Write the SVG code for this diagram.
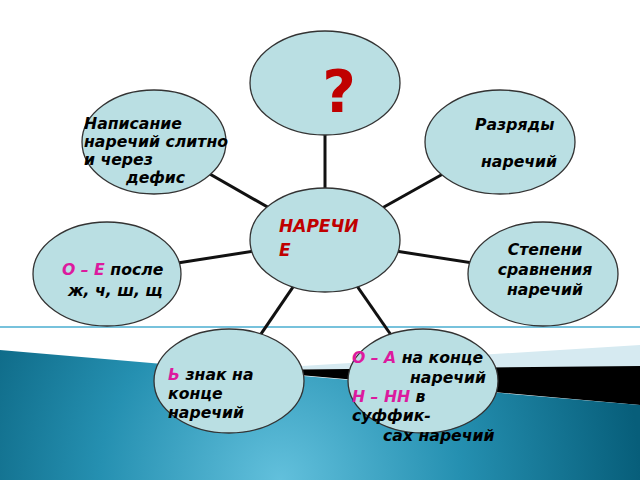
<svg xmlns="http://www.w3.org/2000/svg" width="640" height="480" viewBox="0 0 640 480">
<defs>
<radialGradient id="sea" cx="280" cy="480" r="360" gradientUnits="userSpaceOnUse">
<stop offset="0" stop-color="#62c0dc"/>
<stop offset="0.5" stop-color="#2590b1"/>
<stop offset="1" stop-color="#075e7a"/>
</radialGradient>
<style>
.n{fill:#badfe3;stroke:#333;stroke-width:1.3}
.c line{stroke:#111;stroke-width:3}
text{font-family:"DejaVu Sans","Noto Sans",sans-serif;font-weight:bold;font-style:italic;font-size:15.7px;fill:#000}
.r{fill:#c00000}
.m{fill:#dc1a9e}
</style>
</defs>
<rect width="640" height="480" fill="#fff"/>
<g id="background">
<line x1="0" y1="327" x2="640" y2="327" stroke="#4aaed0" stroke-width="1.5"/>
<polygon points="238,370 640,345 640,368" fill="#d6eaf1"/>
<polygon points="244,370 640,366 640,405" fill="#000"/>
<polygon points="0,350 640,405 640,480 0,480" fill="url(#sea)"/>
</g>
<g class="c" id="connectors">
<line x1="325" y1="83" x2="325" y2="240"/>
<line x1="325" y1="240" x2="154" y2="142"/>
<line x1="325" y1="240" x2="500" y2="142"/>
<line x1="325" y1="240" x2="107" y2="274"/>
<line x1="325" y1="240" x2="543" y2="274"/>
<line x1="325" y1="240" x2="229" y2="381"/>
<line x1="325" y1="240" x2="423" y2="381"/>
</g>
<g id="question">
<ellipse class="n" cx="325" cy="83" rx="75" ry="52"/>
<text x="339" y="112" class="r" style="font-size:58px;font-style:normal;text-anchor:middle">?</text>
</g>
<g id="spelling">
<ellipse class="n" cx="154" cy="142" rx="72" ry="52"/>
<text x="84" y="129">Написание</text>
<text x="84" y="147">наречий слитно</text>
<text x="84" y="165">и через</text>
<text x="126" y="183">дефис</text>
</g>
<g id="categories">
<ellipse class="n" cx="500" cy="142" rx="75" ry="52"/>
<text x="475" y="130">Разряды</text>
<text x="481" y="167">наречий</text>
</g>
<g id="center">
<ellipse class="n" cx="325" cy="240" rx="75" ry="52"/>
<text x="279" y="232" class="r" style="font-size:17px">НАРЕЧИ</text>
<text x="279" y="256" class="r" style="font-size:17px">Е</text>
</g>
<g id="oe">
<ellipse class="n" cx="107" cy="274" rx="74" ry="52"/>
<text x="62" y="275"><tspan class="m">О – Е</tspan> после</text>
<text x="68" y="296">ж, ч, ш, щ</text>
</g>
<g id="degrees">
<ellipse class="n" cx="543" cy="274" rx="75" ry="52"/>
<text x="545" y="255" text-anchor="middle">Степени</text>
<text x="545" y="275" text-anchor="middle">сравнения</text>
<text x="545" y="295" text-anchor="middle">наречий</text>
</g>
<g id="softsign">
<ellipse class="n" cx="229" cy="381" rx="75" ry="52"/>
<text x="168" y="380"><tspan class="m">Ь</tspan> знак на</text>
<text x="168" y="399">конце</text>
<text x="168" y="418">наречий</text>
</g>
<g id="oa">
<ellipse class="n" cx="423" cy="381" rx="75" ry="52"/>
<text x="352" y="363"><tspan class="m">О – А</tspan> на конце</text>
<text x="410" y="383">наречий</text>
<text x="352" y="402"><tspan class="m">Н – НН</tspan> в</text>
<text x="352" y="421">суффик-</text>
<text x="383" y="441">сах наречий</text>
</g>
</svg>
